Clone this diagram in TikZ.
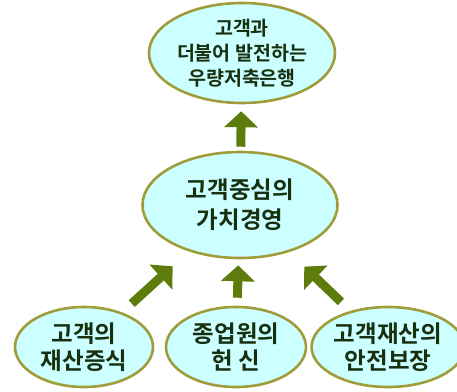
\documentclass[tikz,border=0pt]{standalone}
\usepackage{fontspec}
\IfFontExistsTF{Noto Sans CJK KR Bold}
  {\newfontfamily\kr{Noto Sans CJK KR Bold}}
  {\newfontfamily\kr{Noto Sans CJK KR}[FakeBold=4]}
\usetikzlibrary{shapes.geometric,arrows.meta}
\definecolor{cellfill}{RGB}{204,255,255}
\definecolor{cellline}{RGB}{160,156,60}
\definecolor{arrowgreen}{RGB}{94,124,12}
\definecolor{textgreen}{RGB}{24,48,16}
\newcommand{\goalfont}{\kr\fontsize{23.5}{27}\selectfont}
\newcommand{\corefont}{\kr\fontsize{23.5}{30}\selectfont}
\newcommand{\visionfont}{\kr\fontsize{19.5}{25}\selectfont}
\tikzset{
  goal/.style={ellipse, draw=cellline, line width=2.6pt, fill=cellfill,
    inner sep=0pt, align=center, text=textgreen, font=\goalfont},
  bigarrow/.style={draw=arrowgreen, line width=9pt,
    -{Triangle[width=33pt,length=16pt]}}
}
\begin{document}
\begin{tikzpicture}[x=1pt,y=-1pt]
\useasboundingbox (0,0) rectangle (457,391);

% Top goal
\node[goal, minimum width=186pt, minimum height=100pt, font=\visionfont]
  (vision) at (242,53) {고객과\\더불어 발전하는\\우량저축은행};

% Middle goal
\node[goal, minimum width=195pt, minimum height=106pt, font=\corefont]
  (core) at (240,205) {고객중심의\\가치경영};

% Bottom goals
\node[goal, minimum width=138pt, minimum height=80pt] (asset) at (84,347)
  {고객의\\재산증식};
\node[goal, minimum width=140pt, minimum height=80pt] (staff) at (236,347)
  {종업원의\\헌 신};
\node[goal, minimum width=138pt, minimum height=80pt] (safe) at (388,347)
  {고객재산의\\안전보장};

% Arrows between levels
\draw[bigarrow, shorten <=4pt, shorten >=7pt] (core) -- (vision);
\draw[bigarrow, shorten <=13pt, shorten >=22pt] (asset) -- (core);
\draw[bigarrow, shorten <=8pt, shorten >=6pt] (staff) -- (core);
\draw[bigarrow, shorten <=13pt, shorten >=21pt] (safe) -- (core);

\end{tikzpicture}
\end{document}
